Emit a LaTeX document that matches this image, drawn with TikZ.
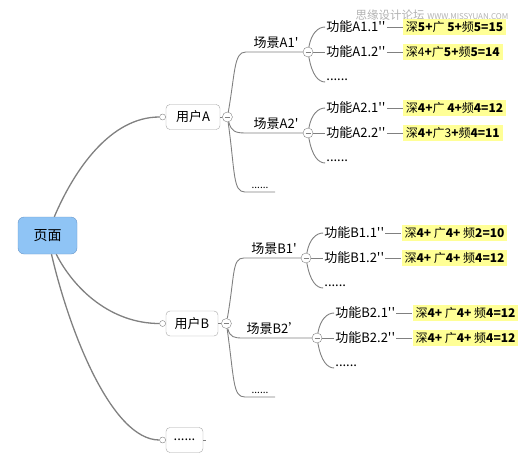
\documentclass[tikz,border=0pt]{standalone}
\usepackage{fontspec}
\newfontfamily\cjk{Noto Sans CJK SC}
\usetikzlibrary{positioning}
\definecolor{linegray}{RGB}{128,128,128}
\definecolor{rootblue}{RGB}{143,196,245}
\definecolor{rootedge}{RGB}{105,150,200}
\definecolor{scoreyellow}{RGB}{255,255,150}

\tikzset{
  topic/.style={draw=gray!70, fill=white, rounded corners=4pt, minimum height=25pt,
    inner xsep=4pt, font=\cjk\fontsize{13}{15}\selectfont},
  dot/.style={circle, draw=linegray, fill=white, minimum size=6pt, inner sep=0pt},
  fold/.style={circle, draw=linegray, fill=white, minimum size=10pt, inner sep=0pt,
    path picture={\draw[linegray] ([xshift=-2.5pt]path picture bounding box.center)
      -- ([xshift=2.5pt]path picture bounding box.center);}},
  scene/.style={anchor=south, inner sep=3pt, minimum width=60pt, font=\cjk\fontsize{13}{15}\selectfont},
  func/.style={anchor=west, inner sep=1pt, font=\cjk\fontsize{13}{15}\selectfont},
  score/.style={anchor=west, fill=scoreyellow, inner xsep=3pt, inner ysep=2pt,
    font=\cjk\fontsize{12}{14}\selectfont},
  branch/.style={draw=linegray, line width=0.9pt},
  trunk/.style={draw=linegray, line width=1.3pt},
}

\begin{document}
\begin{tikzpicture}[x=1pt,y=1pt]
\useasboundingbox (0,0) rectangle (524,-466);
% watermark of the source site
\node[font=\cjk\fontsize{11.5}{13}\selectfont, text=gray!60] (wm) at (432,-15)
  {思缘设计论坛\ {\fontsize{8}{9}\selectfont WWW.MISSYUAN.COM}};

% root and the three users
\node[draw=rootedge, fill=rootblue, rounded corners=6pt, minimum width=59pt, minimum height=37pt,
  font=\cjk\fontsize{14}{16}\selectfont] (root) at (47.5,-235.5) {页面};
\node[topic, minimum width=54pt] (ua) at (193,-117) {用户A};
\node[topic, minimum width=52pt] (ub) at (192,-323.5) {用户B};
\node[topic, minimum width=37pt] (uc) at (184.5,-440) {......};
\node[dot, left=0pt of ua] (ua-in) {};
\node[dot, left=0pt of ub] (ub-in) {};
\node[dot, left=0pt of uc] (uc-in) {};
\node[fold, right=2pt of ua] (ua-f) {};
\node[fold, right=3pt of ub] (ub-f) {};
\coordinate[right=3pt of uc] (uc-tail);

\draw[trunk] (root.70) to[out=67,in=180,out distance=51pt,in distance=49pt] (ua-in);
\draw[trunk] (root.-65) to[out=-63,in=180,out distance=40pt,in distance=48pt] (ub-in);
\draw[trunk] (root.-78) to[out=-77,in=180,out distance=78pt,in distance=48pt] (uc-in);
\draw[branch] (ua) -- (ua-f);
\draw[branch] (ub) -- (ub-f);
\draw[branch] (uc) -- (uc-tail);

% scenes
\node[scene] (sa1) at (276,-52) {场景A1'};
\node[scene] (sa2) at (276,-133) {场景A2'};
\node[scene, minimum width=30pt, font=\cjk\fontsize{10}{12}\selectfont] (ux1) at (260,-192) {......};
\node[scene] (sb1) at (274,-258) {场景B1'};
\node[scene] (sb2) at (274,-338) {场景B2’};
\node[scene, minimum width=30pt, font=\cjk\fontsize{10}{12}\selectfont] (ux2) at (260,-397) {......};
\node[fold] (sa1-f) at (308,-52) {};
\node[fold] (sa2-f) at (308,-133) {};
\node[fold] (sb1-f) at (306,-258) {};
\node[fold] (sb2-f) at (317,-338) {};

\draw[branch] (ua-f) to[out=80,in=180,out distance=40pt,in distance=12pt] (sa1.south west) -- (sa1-f);
\draw[branch] (ua-f) to[out=-75,in=180,out distance=10pt,in distance=10pt] (sa2.south west) -- (sa2-f);
\draw[branch] (ua-f) to[out=-82,in=180,out distance=50pt,in distance=12pt] (ux1.south west) -- (ux1.south east);
\draw[branch] (ub-f) to[out=80,in=180,out distance=44pt,in distance=12pt] (sb1.south west) -- (sb1-f);
\draw[branch] (ub-f) to[out=-75,in=180,out distance=9pt,in distance=10pt] (sb2.south west) -- (sb2-f);
\draw[branch] (ub-f) to[out=-82,in=180,out distance=52pt,in distance=12pt] (ux2.south west) -- (ux2.south east);

% functions and their scores (deep + wide + frequent)
\foreach \s/\n/\p/\q in {
  sa1/A1/{深\textbf{5+}广 \textbf{5+}频\textbf{5=15}}/{深4\textbf{+}广\textbf{5+}频\textbf{5=14}},
  sa2/A2/{深\textbf{4+}广 \textbf{4+}频\textbf{4=12}}/{深\textbf{4+}广3\textbf{+}频\textbf{4=11}},
  sb1/B1/{深\textbf{4+} 广\textbf{4+} 频\textbf{2=10}}/{深\textbf{4+} 广\textbf{4+} 频\textbf{4=12}},
  sb2/B2/{深\textbf{4+} 广\textbf{4+} 频\textbf{4=12}}/{深\textbf{4+} 广\textbf{4+} 频\textbf{4=12}}} {
  \node[func] (\s-1) at ([xshift=12pt,yshift=25pt]\s-f.east) {功能\n.1''};
  \node[func] (\s-2) at ([xshift=12pt]\s-f.east) {功能\n.2''};
  \node[func, anchor=south west] (\s-x) at ([xshift=12pt,yshift=-30pt]\s-f.east) {......};
  \node[score] (\s-1s) at ([xshift=16pt]\s-1.east) {\p};
  \node[score] (\s-2s) at ([xshift=16pt]\s-2.east) {\q};
  \draw[branch] (\s-f) to[out=80,in=180,out distance=14pt,in distance=7pt] (\s-1.west);
  \draw[branch] (\s-f) -- (\s-2);
  \draw[branch] (\s-f) to[out=-80,in=180,out distance=18pt,in distance=7pt] (\s-x.south west);
  \draw[branch] (\s-1) -- (\s-1s);
  \draw[branch] (\s-2) -- (\s-2s);
}
\end{tikzpicture}
\end{document}
